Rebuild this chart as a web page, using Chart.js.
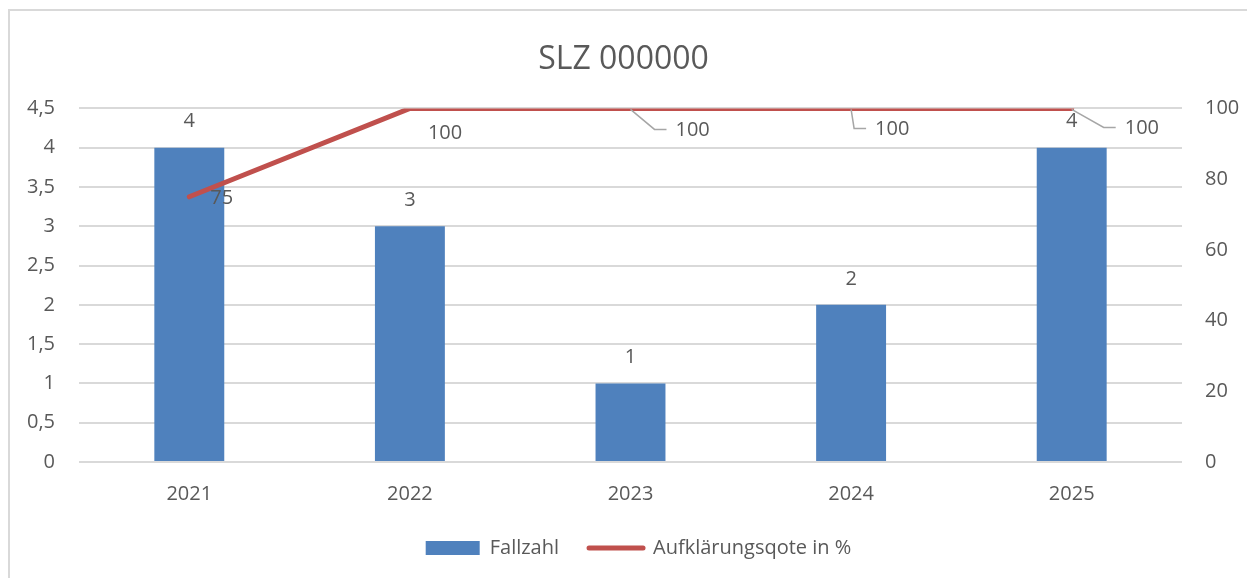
<!DOCTYPE html>
<html>
<head>
<meta charset="utf-8">
<script src="https://cdn.jsdelivr.net/npm/chart.js@4.4.1/dist/chart.umd.min.js"></script>
<style>
  html, body { margin: 0; padding: 0; background: #fff; overflow: hidden; }
  #wrap { position: relative; width: 1247px; height: 578px; }
  #frame { position: absolute; left: 8px; top: 9px; width: 1300px; height: 700px;
           border: 2px solid #d9d9d9; box-sizing: border-box; }
  canvas { position: absolute; left: 0; top: 0; }
</style>
</head>
<body>
<div id="wrap">
  <div id="frame"></div>
  <canvas id="chart" width="1247" height="578"></canvas>
</div>
<script>
const years = ['2021', '2022', '2023', '2024', '2025'];
const fallzahl = [4, 3, 1, 2, 4];
const quote = [75, 100, 100, 100, 100];

const TEXT = '#595959';
const FONT = "'Open Sans', sans-serif";

// label offsets for the line values, relative to the point (left edge, middle)
const lineLabelPos = [
  { dx: 21, dy: 1, leader: false },
  { dx: 18, dy: 25, leader: false },
  { dx: 45, dy: 22, leader: true },
  { dx: 24, dy: 21, leader: true },
  { dx: 53, dy: 20, leader: true },
];

const valueLabels = {
  id: 'valueLabels',
  afterDatasetsDraw(chart) {
    const ctx = chart.ctx;
    ctx.save();
    ctx.font = '20px ' + FONT;
    ctx.fillStyle = TEXT;
    ctx.textBaseline = 'middle';

    // bars
    ctx.textAlign = 'center';
    chart.getDatasetMeta(0).data.forEach((bar, i) => {
      ctx.fillText(String(fallzahl[i]), bar.x, bar.y - 26);
    });

    // line
    ctx.textAlign = 'left';
    chart.getDatasetMeta(1).data.forEach((pt, i) => {
      const p = lineLabelPos[i];
      const lx = pt.x + p.dx;
      const ly = pt.y + p.dy;
      if (p.leader) {
        ctx.strokeStyle = '#a6a6a6';
        ctx.lineWidth = 1.5;
        ctx.beginPath();
        ctx.moveTo(pt.x, pt.y + 1);
        ctx.lineTo(lx - 21, ly - 1);
        ctx.lineTo(lx - 9, ly - 1);
        ctx.stroke();
      }
      ctx.fillText(String(quote[i]), lx, ly);
    });
    ctx.restore();
  }
};

// nudge the legend a little to the right, like the original
const legendShift = {
  id: 'legendShift',
  afterLayout(chart) {
    chart.legend.left += 15;
    chart.legend.right += 15;
  }
};

const commaFmt = v => String(v).replace('.', ',');

new Chart(document.getElementById('chart'), {
  data: {
    labels: years,
    datasets: [
      {
        type: 'bar',
        label: 'Fallzahl',
        data: fallzahl,
        backgroundColor: '#4f81bd',
        borderWidth: 0,
        yAxisID: 'y',
        categoryPercentage: 1,
        barPercentage: 0.317,
        order: 2,
      },
      {
        type: 'line',
        label: 'Aufklärungsqote in %',
        data: quote,
        borderColor: '#c0504d',
        backgroundColor: '#c0504d',
        borderWidth: 5,
        borderCapStyle: 'round',
        pointRadius: 0,
        pointStyle: 'line',
        yAxisID: 'y1',
        order: 1,
      },
    ],
  },
  options: {
    responsive: false,
    animation: false,
    layout: { padding: { top: 0, left: 0, right: 0, bottom: 10 } },
    plugins: {
      title: {
        display: true,
        text: 'SLZ 000000',
        color: TEXT,
        font: { family: FONT, size: 32, weight: 'normal' },
        padding: { top: 41, bottom: 29 },
      },
      legend: {
        position: 'bottom',
        labels: {
          color: TEXT,
          font: { family: FONT, size: 20 },
          usePointStyle: true,
          pointStyleWidth: 54,
          boxHeight: 14,
          padding: 30,
          generateLabels(chart) {
            const items = Chart.defaults.plugins.legend.labels.generateLabels(chart);
            items.sort((a, b) => a.datasetIndex - b.datasetIndex);
            items.forEach(it => {
              if (it.datasetIndex === 0) {
                it.pointStyle = 'rect';
                it.lineWidth = 0;
              } else {
                it.pointStyle = 'line';
                it.lineWidth = 5;
                it.lineCap = 'round';
              }
            });
            return items;
          },
        },
      },
      tooltip: { enabled: false },
    },
    scales: {
      x: {
        grid: { display: false },
        border: { display: false },
        ticks: { color: TEXT, font: { family: FONT, size: 20 }, padding: 12 },
        afterFit(scale) { scale.height = 46; },
      },
      y: {
        position: 'left',
        min: 0,
        max: 4.5,
        ticks: { stepSize: 0.5, color: TEXT, font: { family: FONT, size: 20 }, padding: 24, callback: commaFmt },
        grid: { color: '#d9d9d9', lineWidth: 2, drawTicks: false },
        border: { display: false },
        afterFit(scale) { scale.width = 79; },
      },
      y1: {
        position: 'right',
        min: 0,
        max: 100,
        ticks: { stepSize: 20, color: TEXT, font: { family: FONT, size: 20 }, padding: 23 },
        grid: { drawOnChartArea: false, drawTicks: false },
        border: { display: false },
        afterFit(scale) { scale.width = 65; },
      },
    },
  },
  plugins: [valueLabels, legendShift],
});
</script>
</body>
</html>
